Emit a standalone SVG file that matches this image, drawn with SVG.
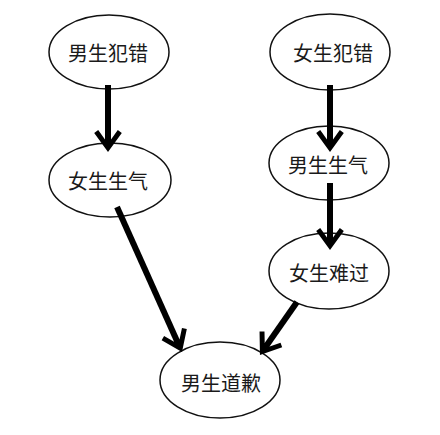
<svg xmlns="http://www.w3.org/2000/svg" width="440" height="435" viewBox="0 0 440 435">
<style>
.node ellipse{fill:#fff;stroke:#111;stroke-width:1.5}
.node text{font-family:"Noto Sans CJK SC","Noto Sans",sans-serif;font-size:20px;fill:#1a1a1a;text-anchor:middle;dominant-baseline:central}
.edge{stroke:#000;stroke-width:6;fill:none;marker-end:url(#ah)}
</style>
<defs>
<marker id="ah" markerUnits="userSpaceOnUse" viewBox="-25 -16 30 32" markerWidth="30" markerHeight="32" refX="-10" refY="0" orient="auto">
<path d="M0,0 L-19,-13.8 L-21.9,-9.8 L-12.6,-3 L-12.6,3 L-21.9,9.8 L-19,13.8 Z" fill="#000"/>
</marker>
</defs>
<rect width="440" height="435" fill="#fff"/>
<g id="nodes">
<g id="n1" class="node"><ellipse cx="109" cy="52" rx="60" ry="37"/><text x="108" y="52">男生犯错</text></g>
<g id="n2" class="node"><ellipse cx="330" cy="52" rx="60" ry="38"/><text x="333" y="52">女生犯错</text></g>
<g id="n3" class="node"><ellipse cx="110" cy="180" rx="61" ry="37"/><text x="108" y="180">女生生气</text></g>
<g id="n4" class="node"><ellipse cx="329" cy="163" rx="60" ry="37"/><text x="328" y="164">男生生气</text></g>
<g id="n5" class="node"><ellipse cx="329" cy="271" rx="60" ry="38"/><text x="329" y="272">女生难过</text></g>
<g id="n6" class="node"><ellipse cx="220" cy="380" rx="60" ry="38"/><text x="221" y="382">男生道歉</text></g>
</g>
<g id="connectors">
<line class="edge" x1="108" y1="85" x2="108" y2="142"/>
<line class="edge" x1="330" y1="85" x2="330" y2="142"/>
<line class="edge" x1="330" y1="183" x2="330" y2="240"/>
<line class="edge" x1="117" y1="207" x2="177.9" y2="342.9"/>
<line class="edge" x1="297" y1="302" x2="265.7" y2="346.8"/>
</g>
</svg>
